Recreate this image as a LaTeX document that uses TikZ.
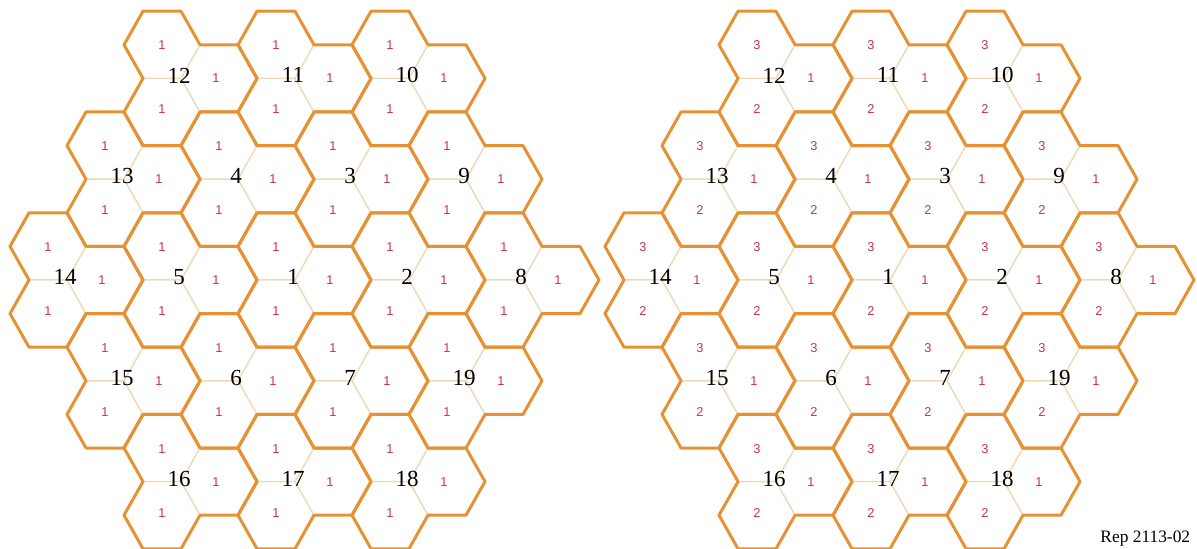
\documentclass[tikz,border=0pt]{standalone}
\usepackage{fontspec}
\setmainfont{Liberation Serif}
\newfontfamily\sectorfont{Liberation Sans}
\definecolor{hexorange}{RGB}{230,146,52}
\definecolor{hexbeige}{RGB}{238,218,182}
\definecolor{sectred}{RGB}{205,45,85}
\usetikzlibrary{calc}

\begin{document}
\begin{tikzpicture}[x=0.5pt, y=-0.5pt,
    outer/.style={draw=hexorange, line width=1.5pt, line join=round},
    inner/.style={draw=hexbeige, line width=0.75pt},
    sitelabel/.style={font=\fontsize{11.5}{12}\selectfont, inner sep=0pt},
    sectorlabel/.style={text=sectred, font=\sectorfont\fontsize{6.4}{7}\selectfont, inner sep=0pt}
  ]
    \useasboundingbox (0,0) rectangle (1197,549);
    % Two layouts: reuse 1 (left) and reuse 3 (right)
    \foreach \grid/\ox/\ul/\rt/\ll in {L/295/1/1/1, R/890/3/1/2} {
      \foreach \n/\p/\q in {1/0/0, 2/2/0, 3/1/-3, 4/-1/-3, 5/-2/0, 6/-1/3, 7/1/3,
          8/4/0, 9/3/-3, 10/2/-6, 11/0/-6, 12/-2/-6, 13/-3/-3, 14/-4/0,
          15/-3/3, 16/-2/6, 17/0/6, 18/2/6, 19/3/3} {
        \coordinate (s\grid\n) at (\ox+57*\p, 280+33.6*\q);
        % sector borders inside the site
        \draw[inner] (s\grid\n) -- ++(-38,0) (s\grid\n) -- ++(19,-33.6)
          (s\grid\n) -- ++(19,33.6);
        % outline of the three cells
        \draw[outer] (s\grid\n) ++(-38,-67.2) -- ++(38,0) -- ++(19,33.6) -- ++(38,0)
          -- ++(19,33.6) -- ++(-19,33.6) -- ++(-38,0) -- ++(-19,33.6) -- ++(-38,0)
          -- ++(-19,-33.6) -- ++(19,-33.6) -- ++(-19,-33.6) -- cycle;
        % labels
        \node[sitelabel] (n\grid\n) at ($(s\grid\n)+(-2,-3)$) {\n};
        \node[sectorlabel] (u\grid\n) at ($(s\grid\n)+(-19,-33)$) {\ul};
        \node[sectorlabel] (r\grid\n) at ($(s\grid\n)+(35,0)$) {\rt};
        \node[sectorlabel] (l\grid\n) at ($(s\grid\n)+(-19,31)$) {\ll};
      }
    }
    \node[font=\fontsize{8.7}{9}\selectfont, anchor=south west, inner sep=0pt] (rep)
      at (1100,547) {Rep 2113-02};
  \end{tikzpicture}
\end{document}
